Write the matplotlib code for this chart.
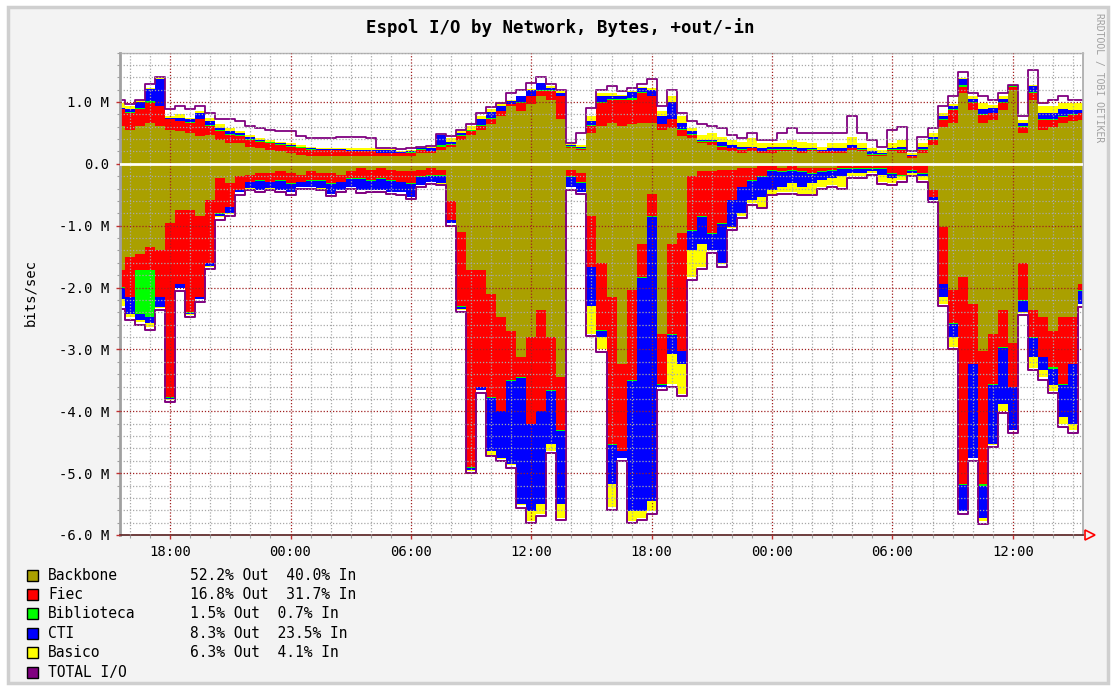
import matplotlib.pyplot as plt
import matplotlib.patches as patches
import numpy as np

# half-hour samples, hours relative to 18:00 of the first day
hours = np.arange(-2.5, 46.0, 0.5)

# outbound traffic per network, Mbit/s (stacked upward)
backbone_out = [0.61, 0.55, 0.61, 0.66, 0.61, 0.55, 0.53, 0.50, 0.45, 0.47, 0.39, 0.34,
                0.34, 0.28, 0.26, 0.23, 0.20, 0.17, 0.15, 0.12, 0.12, 0.12, 0.12, 0.12,
                0.12, 0.12, 0.12, 0.12, 0.13, 0.13, 0.17, 0.17, 0.23, 0.28, 0.39, 0.47,
                0.55, 0.64, 0.77, 0.93, 0.85, 0.96, 1.10, 1.04, 0.72, 0.26, 0.23, 0.50,
                0.61, 0.66, 0.61, 0.64, 0.66, 0.66, 0.55, 0.58, 0.45, 0.42, 0.34, 0.31,
                0.23, 0.20, 0.17, 0.20, 0.17, 0.17, 0.20, 0.20, 0.17, 0.20, 0.17, 0.17,
                0.17, 0.23, 0.20, 0.12, 0.12, 0.20, 0.17, 0.09, 0.17, 0.31, 0.60, 0.66,
                1.14, 0.87, 0.66, 0.71, 0.87, 1.20, 0.50, 1.04, 0.55, 0.60, 0.66, 0.69,
                0.71]
fiec_out = [0.27, 0.28, 0.27, 0.33, 0.32, 0.17, 0.16, 0.16, 0.27, 0.14, 0.14, 0.13,
            0.11, 0.11, 0.10, 0.11, 0.11, 0.11, 0.11, 0.11, 0.10, 0.10, 0.10, 0.08,
            0.08, 0.08, 0.05, 0.05, 0.04, 0.05, 0.06, 0.03, 0.05, 0.03, 0.06, 0.06,
            0.06, 0.08, 0.08, 0.03, 0.14, 0.13, 0.08, 0.14, 0.37, 0.02, 0.01, 0.11,
            0.38, 0.38, 0.43, 0.40, 0.49, 0.43, 0.09, 0.14, 0.10, 0.05, 0.02, 0.05,
            0.05, 0.05, 0.06, 0.05, 0.03, 0.06, 0.03, 0.03, 0.03, 0.03, 0.03, 0.03,
            0.03, 0.02, 0.03, 0.03, 0.03, 0.03, 0.06, 0.03, 0.06, 0.08, 0.11, 0.21,
            0.11, 0.11, 0.13, 0.11, 0.11, 0.05, 0.10, 0.10, 0.16, 0.11, 0.10, 0.10,
            0.11]
biblio_out = [0.01, 0.01, 0.02, 0.02, 0.01, 0.01, 0.01, 0.01, 0.01, 0.01, 0.01, 0.01,
              0.01, 0.01, 0.01, 0.01, 0.01, 0.01, 0.01, 0.01, 0.01, 0.01, 0.01, 0.01,
              0.01, 0.01, 0.01, 0.01, 0.01, 0.01, 0.01, 0.01, 0.02, 0.01, 0.01, 0.01,
              0.01, 0.02, 0.01, 0.01, 0.01, 0.01, 0.02, 0.01, 0.01, 0.01, 0.01, 0.02,
              0.01, 0.01, 0.01, 0.02, 0.01, 0.01, 0.01, 0.01, 0.01, 0.01, 0.01, 0.01,
              0.01, 0.01, 0.01, 0.01, 0.01, 0.01, 0.01, 0.01, 0.01, 0.01, 0.01, 0.01,
              0.01, 0.01, 0.01, 0.01, 0.01, 0.01, 0.01, 0.01, 0.01, 0.01, 0.02, 0.02,
              0.02, 0.02, 0.02, 0.01, 0.02, 0.01, 0.01, 0.02, 0.01, 0.01, 0.02, 0.01,
              0.01]
cti_out = [0.02, 0.04, 0.10, 0.20, 0.43, 0.01, 0.04, 0.05, 0.10, 0.07, 0.04, 0.05,
           0.04, 0.03, 0.02, 0.01, 0.02, 0.02, 0.01, 0.01, 0.01, 0.01, 0.01, 0.02,
           0.02, 0.02, 0.04, 0.04, 0.01, 0.01, 0.01, 0.04, 0.16, 0.04, 0.04, 0.01,
           0.10, 0.10, 0.07, 0.04, 0.09, 0.10, 0.10, 0.04, 0.05, 0.02, 0.03, 0.07,
           0.09, 0.04, 0.04, 0.10, 0.07, 0.10, 0.12, 0.27, 0.10, 0.05, 0.02, 0.02,
           0.07, 0.05, 0.04, 0.02, 0.04, 0.04, 0.04, 0.04, 0.04, 0.01, 0.02, 0.04,
           0.04, 0.05, 0.01, 0.04, 0.01, 0.01, 0.04, 0.02, 0.04, 0.04, 0.04, 0.05,
           0.10, 0.05, 0.07, 0.07, 0.05, 0.01, 0.05, 0.10, 0.10, 0.10, 0.10, 0.07,
           0.04]
basico_out = [0.08, 0.05, 0.03, 0.02, 0.01, 0.03, 0.06, 0.02, 0.02, 0.05, 0.06, 0.05,
              0.03, 0.03, 0.03, 0.03, 0.02, 0.03, 0.02, 0.02, 0.01, 0.02, 0.01, 0.03,
              0.03, 0.03, 0.02, 0.02, 0.02, 0.02, 0.02, 0.02, 0.01, 0.06, 0.03, 0.06,
              0.05, 0.05, 0.03, 0.03, 0.01, 0.01, 0.01, 0.03, 0.03, 0.01, 0.03, 0.08,
              0.06, 0.06, 0.03, 0.02, 0.02, 0.02, 0.08, 0.09, 0.11, 0.05, 0.08, 0.11,
              0.08, 0.08, 0.08, 0.14, 0.08, 0.05, 0.05, 0.11, 0.11, 0.08, 0.05, 0.08,
              0.08, 0.13, 0.08, 0.05, 0.06, 0.08, 0.11, 0.02, 0.05, 0.06, 0.06, 0.03,
              0.02, 0.05, 0.11, 0.05, 0.05, 0.01, 0.05, 0.02, 0.11, 0.11, 0.11, 0.11,
              0.11]
total_out = [1.04, 0.96, 1.04, 1.29, 1.40, 0.88, 0.93, 0.88, 0.93, 0.83, 0.72, 0.72,
             0.69, 0.61, 0.58, 0.55, 0.53, 0.53, 0.45, 0.42, 0.42, 0.42, 0.43, 0.43,
             0.43, 0.42, 0.26, 0.26, 0.24, 0.25, 0.28, 0.29, 0.49, 0.45, 0.55, 0.64,
             0.83, 0.92, 0.99, 1.15, 1.20, 1.31, 1.40, 1.29, 1.20, 0.34, 0.50, 0.91,
             1.20, 1.26, 1.18, 1.23, 1.29, 1.37, 0.93, 1.20, 0.83, 0.69, 0.64, 0.61,
             0.58, 0.47, 0.42, 0.50, 0.39, 0.39, 0.50, 0.58, 0.50, 0.50, 0.50, 0.50,
             0.50, 0.77, 0.50, 0.39, 0.28, 0.55, 0.60, 0.20, 0.44, 0.58, 0.93, 1.09,
             1.49, 1.14, 1.09, 1.04, 1.14, 1.28, 0.77, 1.52, 0.98, 1.04, 1.09, 1.04,
             1.04]

# inbound traffic per network, Mbit/s (stacked downward)
backbone_in = [1.72, 1.50, 1.45, 1.34, 1.40, 0.96, 0.75, 0.75, 0.85, 0.58, 0.23, 0.31,
               0.20, 0.18, 0.15, 0.15, 0.12, 0.15, 0.18, 0.12, 0.15, 0.15, 0.18, 0.12,
               0.07, 0.10, 0.07, 0.10, 0.12, 0.12, 0.10, 0.07, 0.10, 0.60, 1.10, 1.72,
               1.72, 2.10, 2.48, 2.70, 3.12, 2.80, 2.37, 2.80, 3.45, 0.10, 0.15, 0.85,
               1.61, 2.15, 3.23, 2.04, 1.29, 0.48, 2.75, 1.29, 1.12, 0.20, 0.12, 0.12,
               0.10, 0.10, 0.07, 0.07, 0.04, 0.04, 0.07, 0.04, 0.07, 0.07, 0.07, 0.07,
               0.04, 0.04, 0.04, 0.04, 0.04, 0.04, 0.04, 0.04, 0.04, 0.42, 1.02, 2.04,
               1.83, 2.26, 3.02, 2.75, 2.37, 2.90, 1.60, 2.37, 2.48, 2.70, 2.48, 2.48,
               1.94]
fiec_in = [0.27, 0.65, 0.27, 0.38, 0.75, 2.81, 1.19, 1.65, 1.30, 1.02, 0.57, 0.38,
           0.22, 0.11, 0.11, 0.14, 0.14, 0.16, 0.11, 0.14, 0.11, 0.16, 0.11, 0.11,
           0.16, 0.16, 0.16, 0.16, 0.17, 0.19, 0.10, 0.11, 0.08, 0.30, 1.20, 3.18,
           1.88, 1.67, 1.51, 0.80, 0.33, 1.40, 1.62, 0.86, 0.86, 0.10, 0.15, 0.81,
           1.08, 2.38, 1.41, 1.46, 0.54, 0.37, 0.81, 1.46, 1.90, 0.87, 0.73, 1.00,
           0.86, 0.48, 0.30, 0.19, 0.16, 0.06, 0.05, 0.06, 0.05, 0.08, 0.05, 0.03,
           0.03, 0.03, 0.03, 0.03, 0.03, 0.11, 0.14, 0.06, 0.11, 0.11, 0.92, 0.54,
           3.35, 0.97, 2.16, 0.81, 0.59, 0.70, 0.60, 0.43, 0.64, 0.59, 1.08, 0.75,
           0.10]
biblio_in = [0.01, 0.01, 0.70, 0.76, 0.01, 0.01, 0.01, 0.01, 0.01, 0.01, 0.01, 0.01,
             0.01, 0.01, 0.01, 0.01, 0.01, 0.01, 0.01, 0.01, 0.01, 0.01, 0.01, 0.01,
             0.01, 0.01, 0.01, 0.01, 0.01, 0.01, 0.01, 0.01, 0.01, 0.01, 0.01, 0.01,
             0.01, 0.02, 0.01, 0.01, 0.01, 0.01, 0.01, 0.01, 0.01, 0.01, 0.01, 0.01,
             0.01, 0.01, 0.01, 0.01, 0.01, 0.01, 0.01, 0.01, 0.01, 0.01, 0.01, 0.01,
             0.01, 0.01, 0.01, 0.01, 0.01, 0.01, 0.01, 0.01, 0.01, 0.01, 0.01, 0.01,
             0.01, 0.01, 0.01, 0.01, 0.01, 0.01, 0.01, 0.01, 0.01, 0.01, 0.01, 0.01,
             0.01, 0.01, 0.02, 0.01, 0.01, 0.01, 0.01, 0.02, 0.01, 0.02, 0.01, 0.01,
             0.01]
cti_in = [0.19, 0.26, 0.11, 0.10, 0.15, 0.02, 0.05, 0.02, 0.02, 0.04, 0.04, 0.10,
          0.02, 0.09, 0.15, 0.09, 0.15, 0.13, 0.07, 0.10, 0.12, 0.16, 0.12, 0.13,
          0.18, 0.15, 0.18, 0.18, 0.15, 0.21, 0.13, 0.10, 0.12, 0.04, 0.04, 0.04,
          0.04, 0.86, 0.75, 1.34, 2.04, 1.40, 1.50, 0.86, 1.18, 0.16, 0.14, 0.63,
          0.10, 0.64, 0.10, 2.10, 3.77, 4.59, 0.03, 0.31, 0.20, 0.31, 0.43, 0.26,
          0.64, 0.43, 0.42, 0.31, 0.32, 0.31, 0.24, 0.20, 0.24, 0.15, 0.13, 0.12,
          0.12, 0.07, 0.07, 0.04, 0.10, 0.07, 0.01, 0.04, 0.04, 0.04, 0.20, 0.21,
          0.42, 1.51, 0.53, 0.96, 0.91, 0.69, 0.19, 0.31, 0.21, 0.26, 0.53, 0.96,
          0.21]
basico_in = [0.11, 0.06, 0.03, 0.06, 0.02, 0.01, 0.01, 0.01, 0.01, 0.01, 0.01, 0.01,
             0.01, 0.01, 0.01, 0.01, 0.01, 0.01, 0.01, 0.01, 0.01, 0.01, 0.01, 0.01,
             0.01, 0.01, 0.01, 0.01, 0.01, 0.01, 0.01, 0.01, 0.01, 0.01, 0.01, 0.01,
             0.01, 0.05, 0.02, 0.02, 0.02, 0.16, 0.16, 0.11, 0.22, 0.01, 0.01, 0.45,
             0.20, 0.37, 0.01, 0.16, 0.11, 0.16, 0.01, 0.49, 0.49, 0.44, 0.37, 0.01,
             0.01, 0.01, 0.05, 0.06, 0.16, 0.06, 0.08, 0.14, 0.11, 0.17, 0.11, 0.11,
             0.17, 0.05, 0.05, 0.03, 0.11, 0.08, 0.06, 0.03, 0.06, 0.01, 0.11, 0.16,
             0.01, 0.01, 0.05, 0.01, 0.11, 0.01, 0.01, 0.17, 0.11, 0.10, 0.10, 0.11,
             0.01]
total_in = [2.34, 2.52, 2.60, 2.68, 2.37, 3.85, 2.05, 2.48, 2.23, 1.70, 0.90, 0.85,
            0.50, 0.43, 0.46, 0.43, 0.46, 0.50, 0.41, 0.41, 0.43, 0.52, 0.46, 0.41,
            0.47, 0.46, 0.46, 0.48, 0.50, 0.57, 0.38, 0.33, 0.35, 1.00, 2.40, 5.00,
            3.70, 4.73, 4.81, 4.91, 5.56, 5.81, 5.70, 4.68, 5.76, 0.42, 0.49, 2.79,
            3.04, 5.60, 4.80, 5.81, 5.76, 5.66, 3.65, 3.60, 3.76, 1.87, 1.70, 1.44,
            1.66, 1.07, 0.88, 0.67, 0.72, 0.51, 0.48, 0.48, 0.51, 0.51, 0.40, 0.37,
            0.40, 0.23, 0.23, 0.18, 0.32, 0.34, 0.29, 0.20, 0.29, 0.62, 2.30, 3.00,
            5.66, 4.80, 5.82, 4.58, 4.03, 4.35, 2.45, 3.34, 3.49, 3.70, 4.25, 4.35,
            2.31]

networks = ["Backbone", "Fiec", "Biblioteca", "CTI", "Basico"]
colors = ["#aaa000", "#ff0000", "#00ff00", "#0000ff", "#ffff00"]
pct_text = ["52.2% Out  40.0% In", "16.8% Out  31.7% In", "1.5% Out  0.7% In",
            "8.3% Out  23.5% In", "6.3% Out  4.1% In"]
total_color = "#800080"

tick_hours = [0, 6, 12, 18, 24, 30, 36, 42]
tick_labels = ["18:00", "00:00", "06:00", "12:00", "18:00", "00:00", "06:00", "12:00"]

mono = "DejaVu Sans Mono"
W, H = 1114, 687
fig = plt.figure(figsize=(W / 100, H / 100), dpi=100, facecolor="white")

# grey canvas with a light border, kept behind the axes
fig.patches.append(patches.Rectangle((8 / W, 4 / H), 1100 / W, 676 / H, transform=fig.transFigure,
                                     facecolor="#f3f3f3", edgecolor="#cfcfcf", lw=2.5, zorder=-10))

ax = fig.add_axes([120 / W, (H - 535) / H, 963 / W, 482.5 / H])
ax.set_facecolor("white")

# outbound stack
base = np.zeros(len(hours))
for vals, c in zip([backbone_out, fiec_out, biblio_out, cti_out, basico_out], colors):
    top = base + np.array(vals)
    ax.fill_between(hours, base, top, step="mid", color=c, lw=0, zorder=1)
    base = top
ax.step(hours, total_out, where="mid", color=total_color, lw=1.3, zorder=2)

# inbound stack, drawn below zero
base = np.zeros(len(hours))
for vals, c in zip([backbone_in, fiec_in, biblio_in, cti_in, basico_in], colors):
    top = base + np.array(vals)
    ax.fill_between(hours, -base, -top, step="mid", color=c, lw=0, zorder=1)
    base = top
ax.step(hours, -np.array(total_in), where="mid", color=total_color, lw=1.4, zorder=2)

ax.axhline(0, color="#fffff4", lw=2, zorder=4)

ax.set_xlim(-2.5, 45.5)
ax.set_ylim(-6.0, 1.8)

ax.set_xticks(tick_hours)
ax.set_xticklabels(tick_labels)
ax.set_xticks(np.arange(-2, 46, 1), minor=True)
ax.set_yticks(np.arange(-6, 2, 1))
ax.set_yticklabels(["%.1f M" % v if v != 0 else "0.0" for v in np.arange(-6, 2, 1)])
ax.set_yticks(np.arange(-6, 1.81, 0.2), minor=True)

ax.grid(which="minor", color="#a8a8a8", lw=0.9, linestyle=(0, (1, 1.5)), zorder=3)
ax.grid(which="major", color="#a02020", lw=0.9, linestyle=(0, (1, 1.5)), zorder=3)
ax.set_axisbelow(False)

ax.tick_params(which="major", length=3, width=1, color="#c03030", labelsize=10,
               labelcolor="black")
ax.tick_params(which="minor", length=2, width=0.8, color="#a0a0a0")
ax.tick_params(axis="y", which="major", pad=5)
ax.tick_params(axis="x", which="major", pad=4)
for lab in ax.get_xticklabels() + ax.get_yticklabels():
    lab.set_family(mono)

ax.spines["left"].set_color("#a0a0a0")
ax.spines["left"].set_linewidth(2)
ax.spines["bottom"].set_color("#603030")
ax.spines["bottom"].set_linewidth(1.3)
ax.spines["right"].set_color("#a8a8a8")
ax.spines["right"].set_linewidth(1.2)
ax.spines["top"].set_color("#b8b8b8")
ax.spines["top"].set_linewidth(1)

# arrow at the end of the time axis
ax.plot([45.85], [-6.0], marker=">", ms=7, mfc="none", mec="red", mew=1.2,
        clip_on=False, zorder=5)

fig.text(560 / W, (H - 28) / H, "Espol I/O by Network, Bytes, +out/-in", ha="center",
         va="center", fontsize=12.5, fontweight="bold", family=mono)
fig.text(30 / W, (H - 293) / H, "bits/sec", rotation=90, ha="center", va="center",
         fontsize=10, family=mono)
fig.text(1099 / W, (H - 78) / H, "RRDTOOL / TOBI OETIKER", rotation=270, ha="center",
         va="center", fontsize=7, color="#a0a0a0", family=mono)

# legend rows
rows = networks + ["TOTAL I/O"]
row_colors = colors + [total_color]
for i, (name, c) in enumerate(zip(rows, row_colors)):
    y = 575 + i * 19.4
    fig.patches.append(patches.Rectangle((27 / W, (H - y - 5.5) / H), 11 / W, 11 / H,
                                         transform=fig.transFigure, facecolor=c,
                                         edgecolor="black", lw=1, zorder=2))
    fig.text(48 / W, (H - y) / H, name, ha="left", va="center", fontsize=10.5, family=mono)
    if i < len(pct_text):
        fig.text(190 / W, (H - y) / H, pct_text[i], ha="left", va="center",
                 fontsize=10.5, family=mono)

fig.savefig("out.png", dpi=100, facecolor=fig.get_facecolor())
